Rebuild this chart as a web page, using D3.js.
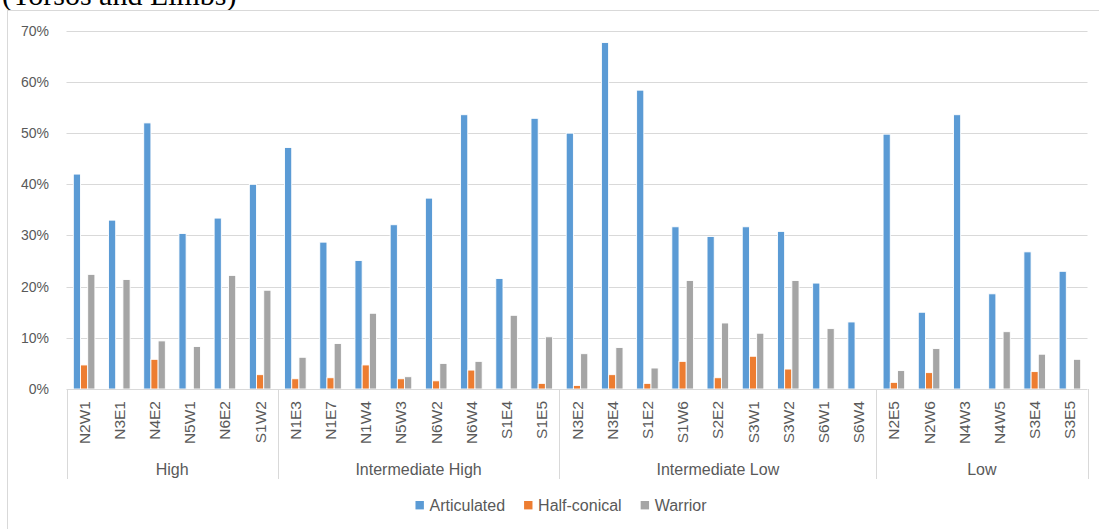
<!DOCTYPE html>
<html>
<head>
<meta charset="utf-8">
<script src="https://cdn.jsdelivr.net/npm/d3@7"></script>
<style>
  html, body { margin: 0; padding: 0; background: #fff; }
  svg { display: block; }
  text { font-family: "Liberation Sans", Arial, sans-serif; fill: #595959; }
</style>
</head>
<body>
<svg id="chart" width="1099" height="529"></svg>
<script>
// ---- data ----
const categories = ["N2W1","N3E1","N4E2","N5W1","N6E2","S1W2",
  "N1E3","N1E7","N1W4","N5W3","N6W2","N6W4","S1E4","S1E5",
  "N3E2","N3E4","S1E2","S1W6","S2E2","S3W1","S3W2","S6W1","S6W4",
  "N2E5","N2W6","N4W3","N4W5","S3E4","S3E5"];
const groups = ["High","Intermediate High","Intermediate Low","Low"];
const groupSizes = [6, 8, 9, 6];
const seriesNames = ["Articulated","Half-conical","Warrior"];
const articulated = [42.0,33.0,52.0,30.4,33.4,40.0,
  47.2,28.7,25.1,32.1,37.3,53.6,21.6,52.9,
  50.0,67.7,58.4,31.7,29.8,31.7,30.8,20.7,13.1,
  49.8,15.0,53.6,18.6,26.8,23.0];
const halfConical = [4.7,0,5.8,0,0,2.8,
  2.0,2.2,4.7,2.0,1.6,3.7,0,1.1,
  0.7,2.8,1.1,5.4,2.2,6.4,3.9,0,0,
  1.3,3.2,0,0,3.4,0];
const warrior = [22.4,21.4,9.4,8.3,22.2,19.3,
  6.2,8.9,14.8,2.4,5.0,5.4,14.4,10.2,
  6.9,8.1,4.1,21.2,12.9,10.9,21.2,11.8,0,
  3.6,7.9,0,11.2,6.8,5.8];
const yTicks = [0,10,20,30,40,50,60,70];
const colors = ["#5B9BD5","#ED7D31","#A5A5A5"];

// ---- layout ----
const svg = d3.select("#chart");
const X0 = 66.5, X1 = 1087.5, Y0 = 389, Y1 = 30.8;

// chart area border (partially cropped)
svg.append("text").text("(Torsos and Limbs)")
  .attr("x", 2).attr("y", 5)
  .style("font-family", "'Liberation Serif', 'Times New Roman', serif")
  .style("font-size", "30px").style("fill", "#000");
svg.append("rect").attr("x", 7.5).attr("y", 10.5).attr("width", 1200).attr("height", 600)
  .attr("fill", "#fff").attr("stroke", "#D9D9D9").attr("stroke-width", 1);

const x = d3.scaleBand().domain(categories).range([X0, X1]).paddingInner(0).paddingOuter(0);
const xSub = d3.scaleBand().domain(seriesNames).range([0, 21.6]);
const subOffset = (x.bandwidth() - 21.6) / 2;
const y = d3.scaleLinear().domain([0, 70]).range([Y0, Y1]);

// gridlines
svg.append("g").selectAll("line").data(yTicks.filter(t => t > 0)).join("line")
  .attr("x1", X0).attr("x2", X1)
  .attr("y1", d => Math.round(y(d)) + 0.5).attr("y2", d => Math.round(y(d)) + 0.5)
  .attr("stroke", "#D9D9D9").attr("stroke-width", 1);

// y axis labels
const yAxis = d3.axisLeft(y).tickValues(yTicks).tickFormat(d => d + "%").tickSize(0).tickPadding(0);
const gy = svg.append("g").attr("transform", `translate(49,0)`).call(yAxis);
gy.select(".domain").remove();
gy.selectAll("text").style("font-size", "14px").style("fill", "#595959")
  .style("font-family", "'Liberation Sans', Arial, sans-serif");

// bars
const series = [articulated, halfConical, warrior];
series.forEach((vals, si) => {
  svg.append("g").selectAll("rect").data(categories.map((c, i) => ({c, v: vals[i]})))
    .join("rect")
    .filter(d => d.v > 0)
    .attr("x", d => x(d.c) + subOffset + xSub(seriesNames[si]))
    .attr("width", xSub.bandwidth())
    .attr("y", d => y(d.v))
    .attr("height", d => Y0 - y(d.v))
    .attr("fill", colors[si])
    .attr("stroke", "#fff").attr("stroke-width", 0.9);
});

// category axis line
svg.append("line").attr("x1", X0).attr("x2", X1).attr("y1", Y0 + 0.5).attr("y2", Y0 + 0.5)
  .attr("stroke", "#D9D9D9").attr("stroke-width", 1);

// category labels (rotated)
svg.append("g").selectAll("text").data(categories).join("text")
  .attr("transform", d => `translate(${x(d) + x.bandwidth() / 2},401) rotate(-90)`)
  .attr("text-anchor", "end").attr("dominant-baseline", "central")
  .style("font-size", "15.5px")
  .text(d => d);

// group dividers and labels
let start = 0;
const bounds = [X0];
groupSizes.forEach((n, gi) => {
  const gx0 = x(categories[start]);
  const gx1 = x(categories[start + n - 1]) + x.bandwidth();
  bounds.push(gx1);
  svg.append("text").attr("x", (gx0 + gx1) / 2).attr("y", 469)
    .attr("text-anchor", "middle").attr("dominant-baseline", "central")
    .style("font-size", "16px").text(groups[gi]);
  start += n;
});
svg.append("g").selectAll("line").data(bounds).join("line")
  .attr("x1", d => Math.round(d) + 0.5).attr("x2", d => Math.round(d) + 0.5)
  .attr("y1", Y0).attr("y2", 479)
  .attr("stroke", "#D9D9D9").attr("stroke-width", 1);

// legend
const lg = svg.append("g");
let lx = 0;
const items = [];
seriesNames.forEach((name, i) => {
  const g = lg.append("g");
  g.append("rect").attr("x", lx).attr("y", 501).attr("width", 8.4).attr("height", 8.4).attr("fill", colors[i]);
  const t = g.append("text").attr("x", lx + 14).attr("y", 505.5).attr("dominant-baseline", "central")
    .style("font-size", "16px").text(name);
  lx += 14 + t.node().getComputedTextLength() + 19;
});
const totalW = lx - 19;
lg.attr("transform", `translate(${561 - totalW / 2},0)`);
</script>
</body>
</html>
